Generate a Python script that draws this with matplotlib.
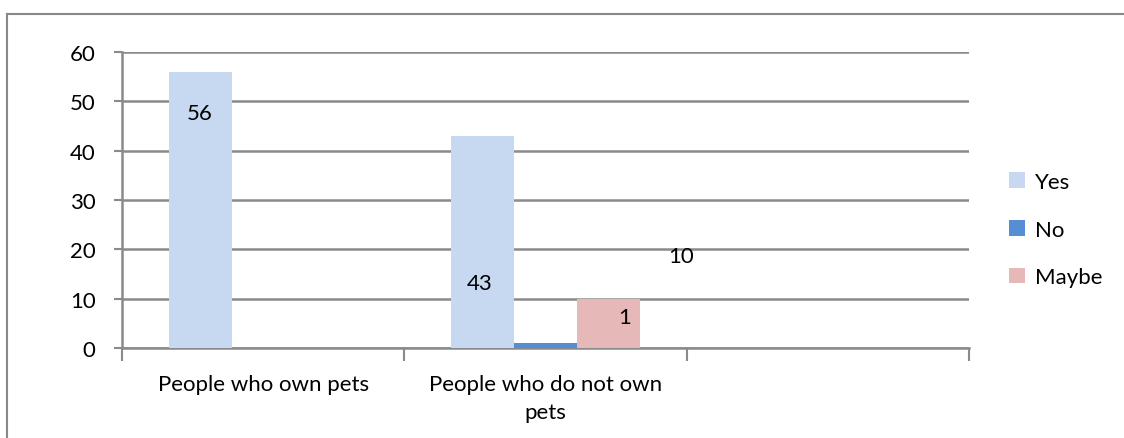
import matplotlib.pyplot as plt
from matplotlib.lines import Line2D
import numpy as np

# data
categories = ["People who own pets", "People who do not own\npets", ""]
series = ["Yes", "No", "Maybe"]
yes_vals = [56, 43, np.nan]
no_vals = [np.nan, 1, np.nan]
maybe_vals = [np.nan, 10, np.nan]
colors = ["#c6d9f1", "#558ed5", "#e6b9b8"]

# data labels (text, x, y) - Excel put them in odd places
label_text = ["56", "43", "1", "10"]
label_x = [-0.224, 0.768, 1.28, 1.48]
label_y = [47.6, 13.2, 6.3, 18.6]

plt.rcParams["font.family"] = ["Lato", "DejaVu Sans"]
fs = 16

fig = plt.figure(figsize=(11.24, 4.39), dpi=100)
ax = fig.add_axes([122/1124, 1-349/439, (969-122)/1124, (349-53)/439])

x = np.arange(len(categories))
w = 0.222
for i, (vals, name) in enumerate(zip([yes_vals, no_vals, maybe_vals], series)):
    ax.bar(x + (i-1)*w, vals, width=w, color=colors[i], label=name, zorder=3)

for t, lx, ly in zip(label_text, label_x, label_y):
    ax.text(lx, ly, t, ha="center", va="center", fontsize=fs, zorder=4)

grid_c = "#8a8a8a"
ax.set_xlim(-0.5, 2.5)
ax.set_ylim(0, 60)
ax.set_yticks(range(0, 61, 10))
ax.yaxis.grid(True, color=grid_c, linewidth=1.8, zorder=0)
ax.set_xticks([-0.5, 0.5, 1.5, 2.5], minor=False)
ax.set_xticklabels([])
ax.set_xticks(x, minor=True)
ax.set_xticklabels(categories, minor=True, fontsize=fs, linespacing=1.5)
ax.tick_params(axis="x", which="minor", length=0, pad=19)
ax.tick_params(axis="x", which="major", length=9, width=1.5, color=grid_c)
ax.tick_params(axis="y", length=6, width=1.5, color=grid_c, labelsize=fs, pad=13)
for s in ["top", "right"]:
    ax.spines[s].set_visible(False)
for s in ["left", "bottom"]:
    ax.spines[s].set_color(grid_c)
    ax.spines[s].set_linewidth(1.8)

ax.legend(loc="center left", bbox_to_anchor=(1.024, 0.40), frameon=False,
          fontsize=fs, handlelength=0.7, handleheight=0.7, handletextpad=0.45,
          labelspacing=1.25)

# outer chart border (top and left only visible)
fig.add_artist(Line2D([7/1124, 7/1124], [0, 1-15/439], color="#888888", linewidth=1.5))
fig.add_artist(Line2D([7/1124, 1], [1-15/439, 1-15/439], color="#888888", linewidth=1.5))

fig.savefig("out.png", dpi=100)
